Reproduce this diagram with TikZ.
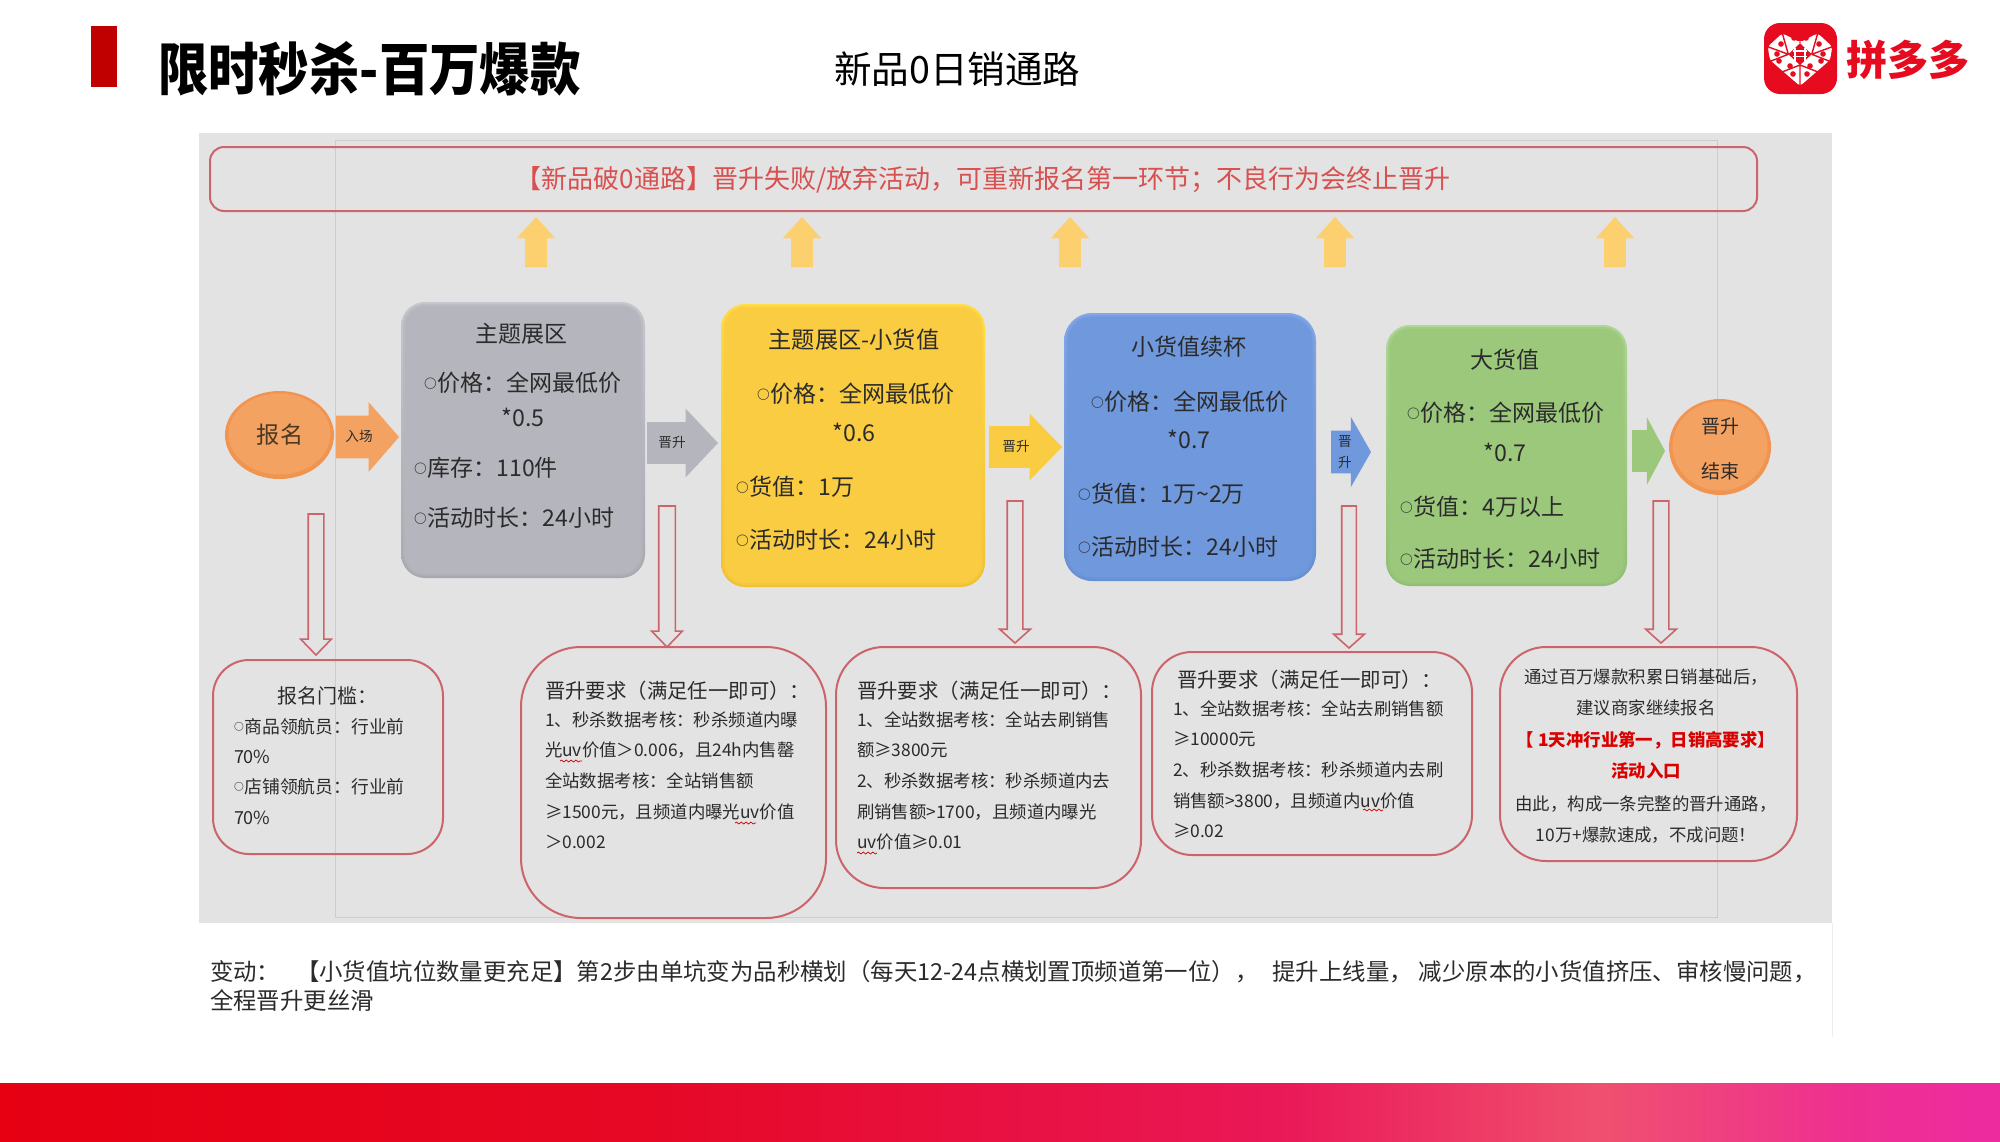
\documentclass[tikz,border=0pt]{standalone}
\usepackage{fontspec}
\setmainfont{Noto Sans CJK SC}
\usetikzlibrary{shapes.geometric,shapes.arrows,decorations.pathmorphing}
\definecolor{panelc}{HTML}{E3E3E3}
\definecolor{panelline}{HTML}{CDCDCD}
\definecolor{boxline}{HTML}{CB656B}
\definecolor{ink}{HTML}{2B2B2B}
\definecolor{softred}{HTML}{D8504F}
\definecolor{upc}{HTML}{FDD06F}
\definecolor{pddred}{HTML}{E60B1E}
\definecolor{barred}{HTML}{C00000}
\definecolor{grayb}{HTML}{B5B5BD}
\definecolor{graytop}{HTML}{C6C6CE}
\definecolor{graybot}{HTML}{A8A8B0}
\definecolor{yelb}{HTML}{F9CC42}
\definecolor{yeltop}{HTML}{FFDC48}
\definecolor{yelbot}{HTML}{F0C035}
\definecolor{blub}{HTML}{7098DC}
\definecolor{blutop}{HTML}{84A8E6}
\definecolor{blubot}{HTML}{6590D2}
\definecolor{greb}{HTML}{9CC87C}
\definecolor{gretop}{HTML}{AED694}
\definecolor{grebot}{HTML}{90BE72}
\definecolor{orab}{HTML}{F3A262}
\definecolor{oraedge}{HTML}{F09450}
\definecolor{b1}{HTML}{E60012}\definecolor{b2}{HTML}{E60825}\definecolor{b3}{HTML}{EA1858}\definecolor{b4}{HTML}{F0506F}\definecolor{b5}{HTML}{EE3090}\definecolor{b6}{HTML}{EE2AA0}
\pgfdeclarehorizontalshading{bandshade}{100bp}{color(0bp)=(b1);color(25bp)=(b1);color(41bp)=(b2);color(57bp)=(b3);color(65bp)=(b4);color(71bp)=(b5);color(75bp)=(b6);color(100bp)=(b6)}
\newcommand\fs[1]{\fontsize{#1}{#1}\selectfont}
\newcommand\bul{\raisebox{0.14em}{\scalebox{0.55}{\bfseries ○}}\kern0.04em}
\tikzset{
  txt/.style={inner sep=0pt,outer sep=0pt,text=ink},
  redbox/.style={draw=boxline,line width=1pt,fill=none},
  squig/.style={draw=red!80!black,line width=0.35pt,decorate,decoration={snake,amplitude=0.5pt,segment length=2.4pt}},
  flat/.style={inner xsep=0pt}
}
% left text: name, x, y centre, size in pt, text
\newcommand\tl[5]{\node[txt,anchor=base west] (#1) at (#2,{#3+0.72*#4}) {\fs{#4}#5};}
\newcommand\tc[5]{\node[txt,anchor=base] (#1) at (#2,{#3+0.72*#4}) {\fs{#4}#5};}
% block arrow: name, tail x, tail y, length, shaft, head width, head length, direction, fill, draw
\newcommand\barrow[9]{\node[single arrow,anchor=tail,outer sep=0pt,inner sep={#5*0.25pt},
  minimum height={#4*0.5pt},minimum width=0pt,
  single arrow head extend={(#6-#5)*0.25pt},
  single arrow tip angle={2*atan((#6/2)/#7)},
  shape border rotate=#8,#9] (#1) at (#2,#3) {};}
% bevelled box: name,x1,y1,x2,y2,radius,base,top,bottom
\newcommand\softbox[9]{%
  \node[rectangle,draw=none,inner sep=0pt,outer sep=0pt,rounded corners={#6*0.5pt},top color=#8,bottom color=#9,
    minimum width={(#4-#2)*0.5pt},minimum height={(#5-#3)*0.5pt}] (#1) at ({(#2+#4)/2},{(#3+#5)/2}) {};
  \fill[#7,opacity=.6,rounded corners={(#6-2)*0.5pt}] ({#2+2},{#3+2}) rectangle ({#4-2},{#5-2});
  \fill[#7,rounded corners={(#6-4)*0.5pt}] ({#2+4},{#3+4}) rectangle ({#4-4},{#5-4});
}
% rounded outline box
\newcommand\obox[6]{\node[rectangle,redbox,inner sep=0pt,outer sep=0pt,rounded corners={#6*0.5pt},
    minimum width={(#4-#2)*0.5pt},minimum height={(#5-#3)*0.5pt}] (#1) at ({(#2+#4)/2},{(#3+#5)/2}) {};}
% orange ball: name,x1,y1,x2,y2
\newcommand\ball[5]{\node[ellipse,inner sep=0pt,outer sep=0pt,fill=oraedge,
    minimum width={(#4-#2)*0.5pt},minimum height={(#5-#3)*0.5pt}] (#1) at ({(#2+#4)/2},{(#3+#5)/2}) {};
  \node[ellipse,inner sep=0pt,fill=orab,minimum width={(#4-#2-7)*0.5pt},minimum height={(#5-#3-7)*0.5pt}] at ({(#2+#4)/2},{(#3+#5)/2-1}) {};}
\begin{document}
\begin{tikzpicture}[x=0.5pt,y=-0.5pt]
\useasboundingbox (0,0) rectangle (2000,1141);
\fill[white] (0,0) rectangle (2000,1141);
% header
\fill[barred] (91,26) rectangle (117,87);
\tl{title}{158}{70}{28.5}{\scalebox{0.885}[1]{\bfseries\textcolor{black}{限时秒杀-百万爆款}}}
\tl{subtitle}{834}{70}{18.8}{\textcolor{black}{新品0日销通路}}
% logo
\fill[pddred,rounded corners=8pt] (1764,23) rectangle (1837,94);
\fill[white,rounded corners=1.5pt] (1800,42.3) -- (1817.7,33.3) -- (1832.3,46.7) -- (1830,60) -- (1800,86) -- (1770,60) -- (1767.7,46.7) -- (1782.3,33.3) -- cycle;
\fill[pddred] (1800,43.3) -- (1811.7,54.3) -- (1800,65) -- (1788.3,54.3) -- cycle;
\draw[white,line width=0.6pt] (1795,47.5) -- (1795,61) (1805,47.5) -- (1805,61) (1793,51) -- (1807,51) (1793,56.5) -- (1807,56.5);
\draw[pddred,line width=0.7pt]
  (1788.3,54.3) -- (1767.7,46.7) (1788.3,54.3) -- (1782.3,33.3) (1800,43.3) -- (1800,42)
  (1811.7,54.3) -- (1817.7,33.3) (1811.7,54.3) -- (1832.3,46.7)
  (1788.3,54.3) -- (1771,61) (1811.7,54.3) -- (1829,61)
  (1800,65) -- (1800,86) (1800,65) -- (1782,72) (1800,65) -- (1818,72);
\foreach \px/\py in {1781/44,1794/38,1806/38,1819/44,1777/54,1823/54,1790/66,1810/66,1793/74,1807/74,1779/61,1821/61}{
  \fill[pddred] (\px,\py) circle (1.4pt);
}
\node[txt,anchor=base] (logotext) at (1908,75) {\fs{20.6}\bfseries\textcolor{pddred}{拼多多}};
% panel
\fill[panelc] (199,133) rectangle (1832,923);
\draw[panelline,line width=0.5pt] (335,140) rectangle (1717,917);
\draw[black!7,line width=0.5pt] (1832,923) -- (1832,1037);
% banner
\obox{banner}{210}{147}{1757}{211}{14}
\tc{bannertext}{983}{179}{13}{\textcolor{softred}{【新品破0通路】晋升失败/放弃活动，可重新报名第一环节；不良行为会终止晋升}}
% up arrows
\barrow{up1}{536}{267}{50}{21}{38}{21}{90}{fill=upc}
\barrow{up2}{802}{267}{50}{21}{38}{21}{90}{fill=upc}
\barrow{up3}{1070}{267}{50}{21}{38}{21}{90}{fill=upc}
\barrow{up4}{1335}{267}{50}{21}{38}{21}{90}{fill=upc}
\barrow{up5}{1615}{267}{50}{21}{38}{21}{90}{fill=upc}
% start
\ball{start}{225}{391}{334}{479}
\tc{starttext}{280}{435}{11.6}{\textcolor{ink!85!orange}{报名}}
\barrow{enter}{336}{437}{63}{42}{69}{30}{0}{fill=orab,flat}
\tc{enterlab}{359}{437}{6.8}{入场}
% box 1
\softbox{box1}{401}{302}{645}{578}{24}{grayb}{graytop}{graybot}
\tc{b1t}{521}{334}{11.5}{主题展区}
\tl{b1a}{424}{383}{11.5}{\bul 价格：全网最低价}
\tc{b1b}{523}{418}{11.6}{*0.5}
\tl{b1c}{414}{468}{11.5}{\bul 库存：110件}
\tl{b1d}{414}{518}{11.5}{\bul 活动时长：24小时}
\barrow{a1}{647}{443}{71}{41}{68}{32}{0}{fill=grayb,flat}
\tc{a1l}{672}{443}{6.8}{晋升}
% box 2
\softbox{box2}{721}{304}{985}{587}{24}{yelb}{yeltop}{yelbot}
\tc{b2t}{854}{340}{11.6}{主题展区-小货值}
\tl{b2a}{757}{394}{11.5}{\bul 价格：全网最低价}
\tc{b2b}{854}{433}{11.6}{*0.6}
\tl{b2c}{736}{487}{11.5}{\bul 货值：1万}
\tl{b2d}{736}{540}{11.5}{\bul 活动时长：24小时}
\barrow{a2}{989}{447}{73}{41}{66}{32}{0}{fill=yelb,flat}
\tc{a2l}{1016}{447}{6.8}{晋升}
% box 3
\softbox{box3}{1064}{313}{1316}{581}{28}{blub}{blutop}{blubot}
\tc{b3t}{1189}{347}{11.5}{小货值续杯}
\tl{b3a}{1091}{402}{11.5}{\bul 价格：全网最低价}
\tc{b3b}{1189}{440}{11.6}{*0.7}
\tl{b3c}{1078}{494}{11.5}{\bul 货值：1万\textasciitilde 2万}
\tl{b3d}{1078}{547}{11.5}{\bul 活动时长：24小时}
\barrow{a3}{1331}{452}{40}{42}{70}{20}{0}{fill=blub,flat}
\tc{a3l}{1345}{442}{6.8}{晋}
\tc{a3m}{1345}{463}{6.8}{升}
% box 4
\softbox{box4}{1386}{325}{1627}{586}{24}{greb}{gretop}{grebot}
\tc{b4t}{1505}{360}{11.5}{大货值}
\tl{b4a}{1407}{413}{11.5}{\bul 价格：全网最低价}
\tc{b4b}{1505}{453}{11.6}{*0.7}
\tl{b4c}{1400}{507}{11.5}{\bul 货值：4万以上}
\tl{b4d}{1400}{559}{11.5}{\bul 活动时长：24小时}
\barrow{a4}{1632}{451}{33}{41}{67}{18}{0}{fill=greb,flat}
% end
\ball{finish}{1669}{399}{1771}{495}
\tc{f1}{1720}{427}{9.5}{晋升}
\tc{f2}{1720}{472}{9.5}{结束}
% red down arrows
\barrow{d1}{316}{514}{141}{14}{29}{15}{270}{draw=boxline,line width=0.8pt}
\barrow{d2}{667}{506}{141}{15}{29}{15}{270}{draw=boxline,line width=0.8pt}
\barrow{d3}{1015}{501}{142}{14}{29}{13}{270}{draw=boxline,line width=0.8pt}
\barrow{d4}{1349}{506}{142}{13}{29}{13}{270}{draw=boxline,line width=0.8pt}
\barrow{d5}{1661}{501}{142}{14}{29}{13}{270}{draw=boxline,line width=0.8pt}
% box A
\obox{boxA}{213}{660}{443}{854}{36}
\tc{At}{327}{696}{10}{报名门槛：}
\tl{Aa}{234}{727}{8.9}{\bul 商品领航员：行业前}
\tl{Ab}{234}{757}{9}{70\%}
\tl{Ac}{234}{787}{8.9}{\bul 店铺领航员：行业前}
\tl{Ad}{234}{818}{9}{70\%}
% box B
\obox{boxB}{521}{647}{826}{918}{60}
\tl{Bt}{545}{691}{10.2}{晋升要求（满足任一即可）：}
\tl{Ba}{545}{720}{8.7}{1、秒杀数据考核：秒杀频道内曝}
\tl{Bb}{545}{750}{8.7}{光uv价值＞0.006，且24h内售罄}
\tl{Bc}{545}{781}{8.7}{全站数据考核：全站销售额}
\tl{Bd}{545}{812}{8.7}{≥1500元，且频道内曝光uv价值}
\tl{Be}{545}{842}{8.7}{＞0.002}
\draw[squig] (560,761) -- (582,761);
\draw[squig] (735,823) -- (756,823);
% box C
\obox{boxC}{836}{647}{1141}{888}{48}
\tl{Ct}{857}{691}{10.2}{晋升要求（满足任一即可）：}
\tl{Ca}{857}{720}{8.7}{1、全站数据考核：全站去刷销售}
\tl{Cb}{857}{750}{8.7}{额≥3800元}
\tl{Cc}{857}{781}{8.7}{2、秒杀数据考核：秒杀频道内去}
\tl{Cd}{857}{812}{8.7}{刷销售额>1700，且频道内曝光}
\tl{Ce}{857}{842}{8.7}{uv价值≥0.01}
\draw[squig] (857,853) -- (877,853);
% box D
\obox{boxD}{1152}{652}{1472}{855}{40}
\tl{Dt}{1177}{680}{10.2}{晋升要求（满足任一即可）：}
\tl{Da}{1173}{709}{8.7}{1、全站数据考核：全站去刷销售额}
\tl{Db}{1173}{739}{8.7}{≥10000元}
\tl{Dc}{1173}{770}{8.7}{2、秒杀数据考核：秒杀频道内去刷}
\tl{Dd}{1173}{801}{8.7}{销售额>3800，且频道内uv价值}
\tl{De}{1173}{831}{8.7}{≥0.02}
\draw[squig] (1363,810) -- (1383,810);
% box E
\obox{boxE}{1500}{647}{1797}{861}{46}
\tc{Ea}{1646}{677}{8.7}{通过百万爆款积累日销基础后，}
\tc{Eb}{1646}{708}{8.7}{建议商家继续报名}
\tc{Ec}{1646}{740}{8.7}{\bfseries\textcolor{red!85!black}{【 1天冲行业第一，日销高要求】}}
\tc{Ed}{1646}{771}{8.7}{\bfseries\textcolor{red!85!black}{活动入口}}
\tc{Ee}{1646}{804}{8.7}{由此，构成一条完整的晋升通路，}
\tc{Ef}{1646}{835}{8.7}{10万+爆款速成，不成问题！}
% note
\tl{note1}{210}{972}{11.7}{变动：\kern8pt【小货值坑位数量更充足】第2步由单坑变为品秒横划（每天12-24点横划置顶频道第一位），\kern7pt 提升上线量，\kern3pt 减少原本的小货值挤压、审核慢问题，}
\tl{note2}{210}{1001}{11.7}{全程晋升更丝滑}
% band
\shade[shading=bandshade] (0,1083) rectangle (2000,1141);
\end{tikzpicture}
\end{document}
